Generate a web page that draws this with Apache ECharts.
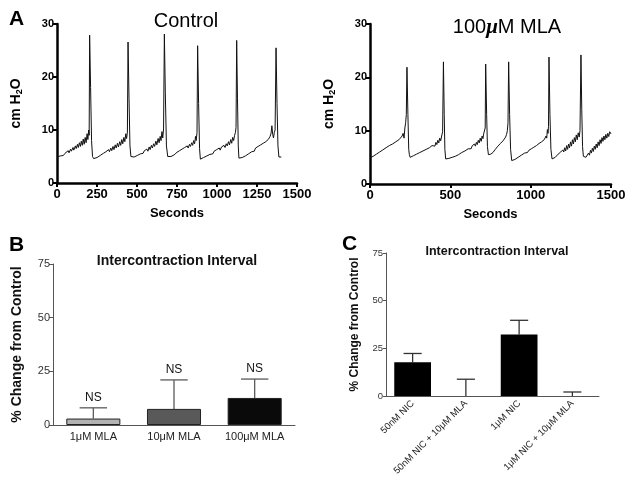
<!DOCTYPE html>
<html><head><meta charset="utf-8">
<script src="https://cdn.jsdelivr.net/npm/echarts@6/dist/echarts.min.js"></script>
<style>html,body{margin:0;padding:0;background:#fff}#c{width:629px;height:482px}</style>
</head><body><div id="c"></div>
<script>
// ---------- Data ----------
const controlTrace = [
[0,4.9],[10,5.0],[20,5.1],[30,5.3],[40,5.2],[50,5.6],[60,5.5],[70,6.1],[75,5.7],[85,6.4],[90,6.0],[100,6.7],[105,6.2],[115,7.0],[120,6.5],[128,7.3],[133,6.7],[140,7.6],[146,6.9],[152,7.9],[158,7.1],[164,8.3],[170,7.3],[176,8.6],[182,7.6],[188,9.3],[193,8.2],[198,10.0],[201,9.0],[204,27.9],[210,18],[216,8],[222,5.0],[229,4.6],
[240,4.7],[250,4.8],[260,5.0],[270,5.2],[280,5.3],[290,5.6],[298,5.4],[306,5.9],[314,5.6],[322,6.3],[328,5.9],[336,6.6],[342,6.1],[350,6.9],[356,6.3],[364,7.2],[370,6.6],[378,7.5],[384,6.8],[392,7.8],[398,7.1],[405,8.2],[411,7.4],[418,8.6],[424,7.8],[430,9.3],[435,8.4],[440,9.6],[444,26.6],[450,16],[456,7],[462,5.0],
[472,4.9],[482,4.9],[492,5.0],[502,5.2],[512,5.4],[522,5.5],[530,5.8],[538,5.6],[546,6.1],[554,5.8],[562,6.4],[568,6.0],[576,6.8],[582,6.3],[590,7.1],[596,6.6],[604,7.4],[610,6.9],[618,7.9],[624,7.2],[632,8.4],[638,7.6],[645,8.8],[650,8.0],[656,9.7],[661,8.5],[666,10.2],[671,28.1],[677,17],[684,7],[692,5.0],
[702,4.9],[712,5.0],[722,5.1],[732,5.3],[742,5.5],[750,5.8],[758,5.6],[766,6.1],[774,5.9],[782,6.4],[790,6.2],[798,6.7],[806,6.4],[814,7.0],[820,6.6],[828,7.3],[834,6.9],[842,7.6],[848,7.1],[854,8.0],[860,7.4],[866,8.8],[870,8.0],[875,9.5],[879,25.9],[885,15],[891,6.5],[896,4.5],
[906,4.7],[916,4.8],[926,5.0],[936,5.1],[946,5.3],[956,5.4],[966,5.7],[974,5.5],[982,6.0],[990,5.8],[998,6.3],[1006,6.0],[1014,6.6],[1020,6.2],[1028,6.8],[1036,6.5],[1044,7.1],[1050,6.7],[1058,7.4],[1064,7.0],[1072,7.8],[1078,7.2],[1086,8.2],[1092,7.5],[1098,8.6],[1104,8.0],[1110,9.0],[1115,9.5],[1119,10.5],[1123,26.9],[1128,16],[1133,7],[1137,4.7],
[1147,4.7],[1157,4.8],[1167,5.0],[1177,5.1],[1187,5.3],[1197,5.5],[1207,5.7],[1217,5.9],[1225,6.2],[1233,6.0],[1241,6.6],[1249,6.3],[1257,6.9],[1265,6.6],[1273,7.2],[1281,6.9],[1289,7.5],[1297,7.2],[1305,7.8],[1312,7.5],[1320,8.2],[1326,7.9],[1332,8.8],[1338,9.4],[1343,10.8],[1348,9.2],[1353,8.5],[1358,9.5],[1363,10.0],[1369,25.5],[1375,15],[1381,7],[1387,4.9],[1395,4.9],[1402,4.9]
];
const mlaTrace = [
[0,4.9],[10,5.0],[20,5.2],[30,5.4],[40,5.6],[50,5.8],[60,6.0],[70,6.2],[80,6.4],[90,6.6],[100,6.8],[110,7.0],[120,7.2],[130,7.4],[140,7.5],[150,7.7],[160,7.9],[170,8.1],[180,8.3],[190,8.6],[200,9.0],[206,9.5],[212,8.6],[217,10.5],[222,11.5],[226,13.0],[230,21.9],[236,13],[241,6.5],[245,5.5],[250,5.0],
[260,5.1],[270,5.3],[280,5.2],[290,5.6],[300,5.5],[310,5.9],[320,5.8],[330,6.2],[340,6.1],[350,6.5],[360,6.4],[370,6.8],[378,6.6],[386,7.2],[392,6.9],[398,7.5],[404,7.1],[410,7.8],[416,7.4],[422,8.2],[428,7.7],[434,8.6],[440,8.1],[446,9.0],[452,9.8],[457,22.9],[462,13],[466,6.5],[471,4.7],
[481,4.8],[491,4.8],[501,4.9],[511,5.0],[521,5.1],[531,5.2],[541,5.4],[551,5.5],[561,5.7],[571,5.9],[581,6.0],[591,6.2],[601,6.4],[611,6.6],[621,6.8],[629,6.6],[637,7.2],[643,6.9],[650,7.5],[656,7.1],[662,7.8],[668,7.4],[674,8.2],[680,7.7],[686,8.6],[692,8.0],[698,9.0],[703,8.5],[708,9.5],[713,9.8],[717,10.5],[720,22.5],[726,13],[731,7],[737,5.5],
[745,5.2],[752,5.6],[758,5.4],[765,5.9],[772,6.2],[780,6.5],[788,6.8],[796,7.1],[804,7.3],[812,7.6],[820,7.8],[828,8.1],[836,8.4],[844,8.8],[850,9.3],[855,10.0],[859,11.5],[863,22.9],[869,13],[875,6.5],[882,4.4],
[892,4.5],[902,4.6],[912,4.8],[922,5.0],[932,5.2],[942,5.4],[952,5.6],[962,5.8],[972,6.0],[980,5.9],[988,6.3],[996,6.2],[1004,6.6],[1012,6.5],[1020,6.9],[1028,6.8],[1036,7.2],[1044,7.1],[1052,7.6],[1060,7.4],[1068,7.9],[1076,7.7],[1084,8.3],[1090,8.0],[1096,9.0],[1100,8.6],[1104,10.2],[1108,9.5],[1111,10.8],[1114,23.8],[1120,13],[1126,6.5],[1133,4.7],
[1143,4.8],[1153,5.0],[1163,5.3],[1171,5.6],[1179,5.4],[1187,6.0],[1193,5.7],[1200,6.4],[1206,6.0],[1212,6.8],[1218,6.2],[1224,7.2],[1230,6.5],[1236,7.5],[1242,6.8],[1248,7.9],[1254,7.1],[1260,8.3],[1266,7.5],[1272,8.7],[1278,7.9],[1284,9.2],[1290,8.3],[1296,9.6],[1302,8.8],[1307,10.0],[1313,24.2],[1318,14],[1323,7],[1328,5.2],
[1336,4.9],[1344,5.0],[1352,5.3],[1360,5.8],[1366,5.4],[1372,6.3],[1378,5.8],[1384,6.7],[1390,6.1],[1396,7.1],[1402,6.5],[1408,7.5],[1414,6.8],[1420,7.9],[1426,7.2],[1432,8.3],[1438,7.6],[1444,8.7],[1450,8.0],[1456,9.0],[1462,8.3],[1468,9.3],[1474,8.6],[1480,9.5],[1486,8.9],[1492,9.8],[1500,9.4]
];
const bCategories = ['1μM MLA', '10μM MLA', '100μM MLA'];
const bMeans = [3, 7.5, 12.6];
const bErrors = [5, 13.5, 8.8];
const bMarks = ['NS', 'NS', 'NS'];
const bColors = ['#b3b3b3', '#595959', '#0a0a0a'];
const cCategories = ['50nM NIC', '50nM NIC + 10μM MLA', '1μM NIC', '1μM NIC + 10μM MLA'];
const cMeans = [17.7, 0, 32.3, 0];
const cErrors = [4.6, 8.8, 7.4, 2.1];

// ---------- Chart ----------
const FF = '"Liberation Sans", Arial, Helvetica, sans-serif';
const chart = echarts.init(document.getElementById('c'), null, {renderer: 'canvas'});

function topX(idx, interval) {
  return {
    type: 'value', gridIndex: idx, min: 0, max: 1500, interval: interval,
    name: 'Seconds', nameLocation: 'middle', nameGap: 24,
    nameTextStyle: {fontFamily: FF, fontWeight: 'bold', fontSize: 13, color: '#000'},
    axisLine: {lineStyle: {color: '#000', width: 2.5}},
    axisTick: {length: 4, lineStyle: {color: '#000', width: 2}},
    axisLabel: {fontFamily: FF, fontWeight: 'bold', fontSize: 13, color: '#000', margin: 5,
      formatter: v => String(v)},
    splitLine: {show: false}
  };
}
function topY(idx) {
  return {
    type: 'value', gridIndex: idx, min: 0, max: 30, interval: 10,
    name: '{a|cm H}{s|2}{a|O}', nameLocation: 'middle', nameGap: 33, nameRotate: 90,
    nameTextStyle: {
      rich: {
        a: {fontFamily: FF, fontWeight: 'bold', fontSize: 14, color: '#000', lineHeight: 16},
        s: {fontFamily: FF, fontWeight: 'bold', fontSize: 9, color: '#000', verticalAlign: 'bottom', lineHeight: 10, padding: [6, 0, 0, 0]}
      }
    },
    axisLine: {show: true, lineStyle: {color: '#000', width: 2.5}},
    axisTick: {show: true, length: 4, lineStyle: {color: '#000', width: 2}},
    axisLabel: {fontFamily: FF, fontWeight: 'bold', fontSize: 11, color: '#000', margin: 3},
    splitLine: {show: false}
  };
}

function errRender(marks) {
  return function (params, api) {
    const i = api.value(0);
    const mean = api.value(1);
    const err = api.value(2);
    const p0 = api.coord([i, mean]);
    const p1 = api.coord([i, mean + err]);
    const band = api.size([1, 0])[0];
    const capHalf = band * 0.34 * 0.5;
    const col = params.seriesIndex === 3 ? '#5a5a5a' : '#333';
    const children = [
      {type: 'line', shape: {x1: p0[0], y1: p0[1], x2: p1[0], y2: p1[1]}, style: {stroke: col, lineWidth: 1.3}},
      {type: 'line', shape: {x1: p1[0] - capHalf, y1: p1[1], x2: p1[0] + capHalf, y2: p1[1]}, style: {stroke: col, lineWidth: 1.3}}
    ];
    if (marks) {
      children.push({type: 'text', style: {text: marks[params.dataIndex], x: p1[0], y: p1[1] - 4,
        align: 'center', verticalAlign: 'bottom', fill: '#111', font: '12px ' + FF}});
    }
    return {type: 'group', children: children};
  };
}

const option = {
  backgroundColor: '#fff',
  animation: false,
  title: [
    {text: 'Control', left: 181, top: 6, textAlign: 'center',
      textStyle: {fontFamily: FF, fontWeight: 'normal', fontSize: 20, color: '#000'}},
    {text: '{n|100}{m|μ}{n|M MLA}', left: 502, top: 12, textAlign: 'center',
      textStyle: {rich: {
        n: {fontFamily: FF, fontWeight: 'normal', fontSize: 20, color: '#000'},
        m: {fontFamily: '"Liberation Serif", serif', fontStyle: 'italic', fontSize: 21, color: '#000'}
      }}},
    {text: 'A', left: 4, top: 4, textStyle: {fontFamily: FF, fontWeight: 'bold', fontSize: 21, color: '#000'}},
    {text: 'B', left: 4, top: 230, textStyle: {fontFamily: FF, fontWeight: 'bold', fontSize: 21, color: '#000'}},
    {text: 'C', left: 337, top: 229, textStyle: {fontFamily: FF, fontWeight: 'bold', fontSize: 21, color: '#000'}},
    {text: 'Intercontraction Interval', left: 172, top: 249, textAlign: 'center',
      textStyle: {fontFamily: FF, fontWeight: 'bold', fontSize: 14, color: '#111'}},
    {text: 'Intercontraction Interval', left: 492, top: 240, textAlign: 'center',
      textStyle: {fontFamily: FF, fontWeight: 'bold', fontSize: 12.5, color: '#111'}}
  ],
  grid: [
    {left: 57, top: 24, width: 240, height: 159},
    {left: 370, top: 24, width: 241, height: 160},
    {left: 53, top: 264, width: 242, height: 161},
    {left: 386, top: 253, width: 213, height: 143}
  ],
  xAxis: [
    topX(0, 250),
    topX(1, 500),
    {type: 'category', gridIndex: 2, data: bCategories,
      axisLine: {lineStyle: {color: '#555', width: 1}}, axisTick: {show: false},
      axisLabel: {fontFamily: FF, fontSize: 11, color: '#222', margin: 6}},
    {type: 'category', gridIndex: 3, data: cCategories,
      axisLine: {lineStyle: {color: '#555', width: 1}}, axisTick: {show: false},
      axisLabel: {fontFamily: FF, fontSize: 9.5, color: '#222', rotate: 45, margin: 6, interval: 0}}
  ],
  yAxis: [
    topY(0),
    topY(1),
    {type: 'value', gridIndex: 2, min: 0, max: 75, interval: 25,
      name: '% Change from Control', nameLocation: 'middle', nameGap: 29,
      nameTextStyle: {fontFamily: FF, fontWeight: 'bold', fontSize: 14, color: '#111'},
      axisLine: {show: true, lineStyle: {color: '#555', width: 1}},
      axisTick: {show: true, length: 4, lineStyle: {color: '#555'}},
      axisLabel: {fontFamily: FF, fontSize: 11, color: '#333', margin: 3},
      splitLine: {show: false}},
    {type: 'value', gridIndex: 3, min: 0, max: 75, interval: 25,
      name: '% Change from Control', nameLocation: 'middle', nameGap: 25,
      nameTextStyle: {fontFamily: FF, fontWeight: 'bold', fontSize: 12, color: '#111'},
      axisLine: {show: true, lineStyle: {color: '#555', width: 1}},
      axisTick: {show: true, length: 3, lineStyle: {color: '#555'}},
      axisLabel: {fontFamily: FF, fontSize: 9.5, color: '#333', margin: 3},
      splitLine: {show: false}}
  ],
  series: [
    {type: 'line', xAxisIndex: 0, yAxisIndex: 0, data: controlTrace, showSymbol: false,
      lineStyle: {color: '#111', width: 1}},
    {type: 'line', xAxisIndex: 1, yAxisIndex: 1, data: mlaTrace, showSymbol: false,
      lineStyle: {color: '#111', width: 1}},
    {type: 'bar', xAxisIndex: 2, yAxisIndex: 2, barWidth: '67%',
      data: bMeans.map((v, i) => ({value: v, itemStyle: {color: bColors[i], borderColor: '#222', borderWidth: 1}}))},
    {type: 'custom', xAxisIndex: 2, yAxisIndex: 2, renderItem: errRender(bMarks),
      data: bMeans.map((v, i) => [i, v, bErrors[i]]), encode: {x: 0, y: 1}, z: 1},
    {type: 'bar', xAxisIndex: 3, yAxisIndex: 3, barWidth: '69%',
      data: cMeans.map(v => ({value: v, itemStyle: {color: '#000'}}))},
    {type: 'custom', xAxisIndex: 3, yAxisIndex: 3, renderItem: errRender(null),
      data: cMeans.map((v, i) => [i, v, cErrors[i]]), encode: {x: 0, y: 1}, z: 1}
  ]
};
chart.setOption(option);
</script>
</body></html>
